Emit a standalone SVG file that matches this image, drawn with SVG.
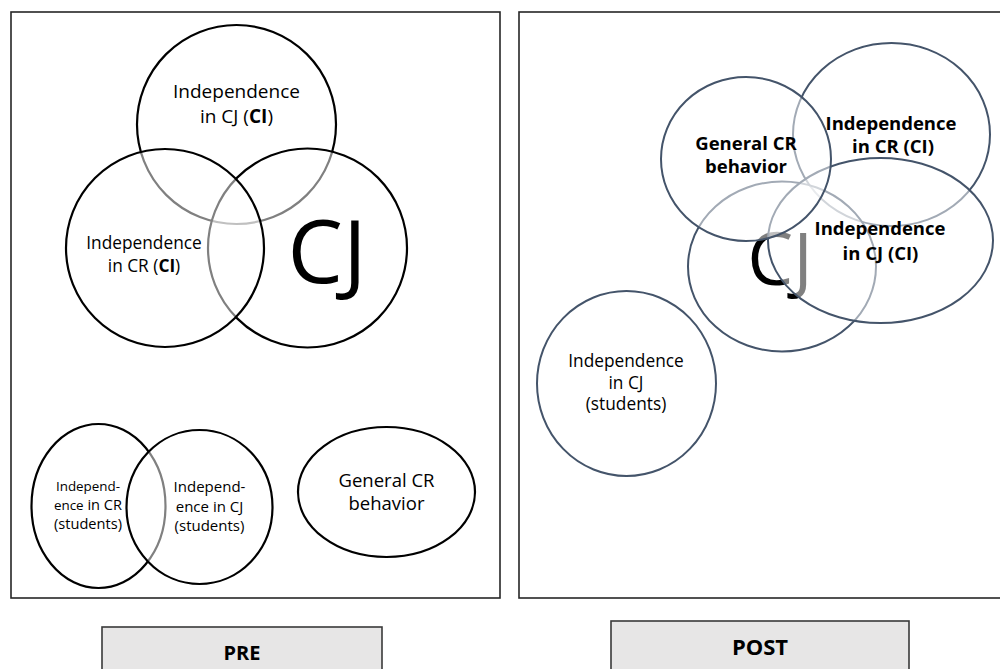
<svg xmlns="http://www.w3.org/2000/svg" width="1000" height="669" viewBox="0 0 1000 669">
<style>
text { font-family: "Open Sans", "Noto Sans", "DejaVu Sans", sans-serif; fill: #000; text-anchor: middle; }
.panel { fill: #fff; stroke: #262626; stroke-width: 1.6; }
.pre { fill: #fff; fill-opacity: 0.5; stroke: #000; stroke-width: 2.2; }
.post { fill: #fff; fill-opacity: 0.5; stroke: #44546a; stroke-width: 2; }
.label { fill: #e7e6e6; stroke: #3a3a3a; stroke-width: 1.6; }
.b { font-weight: bold; }
</style>
<rect width="1000" height="669" fill="#fff"/>
<g id="panel-pre"><rect class="panel" x="11" y="12" width="489" height="586"/></g>
<g id="panel-post"><rect class="panel" x="519" y="12" width="490" height="586"/></g>

<g id="pre-ci-cj">
<circle class="pre" cx="236.5" cy="124.5" r="99.5"/>
<text font-size="19" x="236.5" y="98">Independence<tspan x="236.5" dy="25">in CJ (</tspan><tspan class="b">CI</tspan><tspan>)</tspan></text>
</g>
<g id="pre-cj">
<circle class="pre" cx="307.5" cy="248" r="99.5"/>
<text font-size="88" x="327" y="283">CJ</text>
</g>
<g id="pre-ci-cr">
<circle class="pre" cx="165" cy="248" r="99"/>
<text font-size="17.3" x="144" y="249">Independence<tspan x="144" dy="23">in CR (</tspan><tspan class="b">CI</tspan><tspan>)</tspan></text>
</g>

<g id="pre-students-cr">
<ellipse class="pre" cx="98.5" cy="506" rx="67" ry="82"/>
<text font-size="14.6" x="88" y="491"><tspan font-size="13.4">Independ-</tspan><tspan x="88" dy="19" font-size="13.4">ence</tspan><tspan> in CR</tspan><tspan x="88" dy="19">(students)</tspan></text>
</g>
<g id="pre-students-cj">
<ellipse class="pre" cx="199.5" cy="507" rx="73" ry="77"/>
<text font-size="15" x="209.5" y="492">Independ-<tspan x="209.5" dy="19.5">ence in CJ</tspan><tspan x="209.5" dy="19.5">(students)</tspan></text>
</g>
<g id="pre-general-cr">
<ellipse class="pre" cx="386.5" cy="492" rx="88.5" ry="65"/>
<text font-size="18.5" x="386.5" y="486.5">General CR<tspan x="386.5" dy="23.5">behavior</tspan></text>
</g>

<g id="post-ci-cr">
<ellipse class="post" cx="891.5" cy="134.5" rx="98.5" ry="91.5"/>
<text class="b" font-size="18.5" x="891" y="130">Independence<tspan x="893" dy="23">in CR (CI)</tspan></text>
</g>
<g id="post-cj">
<ellipse class="post" cx="782" cy="266.5" rx="94" ry="85"/>
<text font-size="73" x="780" y="285">CJ</text>
</g>
<g id="post-ci-cj">
<ellipse class="post" cx="880.5" cy="240.5" rx="112.5" ry="82.5"/>
<text class="b" font-size="18.5" x="880" y="235">Independence<tspan x="880.5" dy="25">in CJ (CI)</tspan></text>
</g>
<g id="post-general-cr">
<ellipse class="post" cx="746" cy="159" rx="85" ry="82"/>
<text class="b" font-size="18.5" x="746" y="150">General CR<tspan x="746" dy="23">behavior</tspan></text>
</g>
<g id="post-students-cj">
<ellipse class="post" cx="626.5" cy="383.5" rx="89.5" ry="92.5"/>
<text font-size="17.3" x="626" y="367">Independence<tspan x="626" dy="22">in CJ</tspan><tspan x="626" dy="21">(students)</tspan></text>
</g>

<g id="label-pre">
<rect class="label" x="102" y="627" width="280" height="60"/>
<text class="b" font-size="20" x="242" y="660">PRE</text>
</g>
<g id="label-post">
<rect class="label" x="611" y="621" width="298" height="66"/>
<text class="b" font-size="22" x="760" y="655">POST</text>
</g>
</svg>
